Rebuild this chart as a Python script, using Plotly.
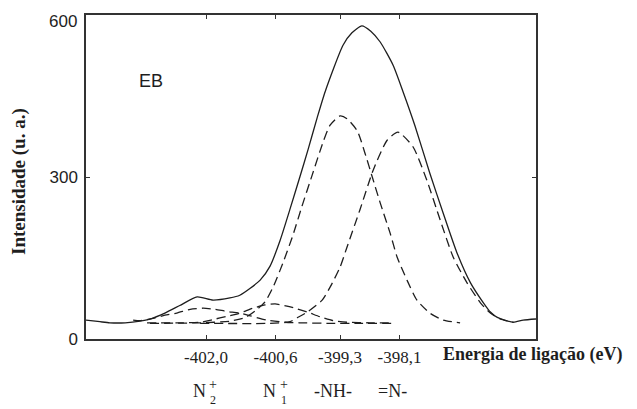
import plotly.graph_objects as go

# ---- data (binding energy in eV, intensity in a.u.) ----
env_x = [-404.42, -404.14, -403.94, -403.63, -403.33, -403.13, -402.83, -402.53, -402.18,
         -401.86, -401.52, -401.32, -401.11, -400.91, -400.71, -400.51, -400.31, -400.11,
         -399.94, -399.76, -399.60, -399.24, -399.06, -398.86, -398.68, -398.49, -398.23,
         -398.03, -397.79, -397.49, -397.22, -396.94, -396.67, -396.41, -396.27, -396.13,
         -395.81, -395.61, -395.35]
env_y = [35, 32, 30, 30, 33, 37, 48, 62, 78,
         72, 76, 81, 94, 109, 135, 182, 240, 300,
         352, 410, 458, 544, 567, 580, 570, 550, 507,
         458, 395, 307, 233, 159, 104, 67, 50, 40,
         31, 35, 37]

nh_x = [-403.13, -402.12, -401.52, -401.21, -401.01, -400.81, -400.65, -400.45, -400.25,
        -400.07, -399.86, -399.64, -399.50, -399.30, -399.16, -398.95, -398.80, -398.65,
        -398.49, -398.29, -398.15, -397.95, -397.75, -397.49, -397.22, -396.88]
nh_y = [29, 30, 33, 40, 52, 69, 96, 141, 192,
        245, 304, 365, 396, 413, 408, 385, 345, 300,
        252, 196, 152, 109, 72, 48, 35, 30]

imine_x = [-402.12, -400.71, -400.31, -400.17, -399.96, -399.66, -399.50, -399.30, -399.16,
           -398.90, -398.63, -398.35, -398.13, -397.83, -397.55, -397.28, -397.02, -396.74,
           -396.47, -396.27, -396.07, -395.81]
imine_y = [29, 29, 32, 39, 50, 72, 96, 133, 170,
           239, 313, 368, 383, 356, 294, 220, 152, 104,
           67, 48, 37, 31]

n1_x = [-403.19, -402.46, -402.12, -401.86, -401.58, -401.32, -401.06, -400.81, -400.61,
        -400.37, -400.17, -399.96, -399.70, -399.44, -399.16, -398.70, -398.23]
n1_y = [30, 30, 31, 36, 42, 48, 57, 63, 65,
        61, 56, 50, 41, 34, 31, 30, 30]

n2_x = [-403.47, -403.33, -403.07, -402.83, -402.59, -402.32, -402.06, -401.82, -401.58,
        -401.32, -401.11, -400.77, -400.41, -400.11, -399.50, -398.90, -398.23]
n2_y = [35, 34, 38, 44, 48, 55, 57, 55, 51,
        48, 43, 35, 31, 30, 29, 29, 29]

tick_vals = [-402.0, -400.6, -399.3, -398.1]
tick_text = ["-402,0", "-400,6", "-399,3", "-398,1"]
y_ticks = [0, 300, 600]

INK = "#1e1e1e"
SERIF = "Liberation Serif, Times New Roman, serif"
SANS = "Liberation Sans, Arial, sans-serif"

fig = go.Figure()
dash = "9px,5px"
for xs, ys in [(n2_x, n2_y), (n1_x, n1_y), (nh_x, nh_y), (imine_x, imine_y)]:
    fig.add_trace(go.Scatter(x=xs, y=ys, mode="lines",
                             line=dict(color=INK, width=1.3, dash=dash, shape="spline", smoothing=0.6),
                             showlegend=False, hoverinfo="skip"))
fig.add_trace(go.Scatter(x=env_x, y=env_y, mode="lines",
                         line=dict(color=INK, width=1.3, shape="spline", smoothing=0.6),
                         showlegend=False, hoverinfo="skip"))

# the top label sits a little below its tick in the reference (it would be clipped otherwise)
y_text = [str(v) if v != max(y_ticks) else "" for v in y_ticks]

# the page body adds an 8px offset, so the figure is laid out 8px smaller on each origin side
fig.update_layout(
    template="none",
    width=629, height=401,
    margin=dict(l=78, r=101, t=7, b=70, pad=0),
    paper_bgcolor="white", plot_bgcolor="white",
    font=dict(family=SERIF, color=INK),
    xaxis=dict(range=[-404.42, -395.35], tickvals=tick_vals, ticktext=tick_text, automargin=False,
               showgrid=False, zeroline=False, showline=True, linecolor="#333", linewidth=1.5,
               mirror="ticks", ticks="inside", ticklen=4, tickcolor="#333",
               tickfont=dict(family=SERIF, size=17, color=INK), ticklabelstandoff=2,
               ticklabeloverflow="allow"),
    yaxis=dict(range=[0, 600], tickvals=y_ticks, ticktext=y_text, showgrid=False, zeroline=False,
               automargin=False, showline=True, linecolor="#333", linewidth=1.5, mirror="ticks",
               ticks="inside", ticklen=4, tickcolor="#333",
               tickfont=dict(family=SANS, size=17, color=INK), ticklabelstandoff=3,
               ticklabeloverflow="allow"),
)

ann = []
ann.append(dict(text=str(max(y_ticks)), x=0, xref="paper", y=max(y_ticks), yref="y",
                xanchor="right", yanchor="middle", xshift=-7, yshift=-6, showarrow=False,
                font=dict(family=SANS, size=17, color=INK)))
# axis titles
ann.append(dict(text="<b>Energia de ligação (eV)</b>", xref="paper", yref="paper",
                x=(441 - 86) / 450, y=(339 - 354) / 324, xanchor="left", yanchor="middle",
                showarrow=False, font=dict(family=SERIF, size=18, color=INK)))
ann.append(dict(text="<b>Intensidade (u. a.)</b>", xref="paper", yref="paper",
                x=(19 - 86) / 450, y=(339 - 182) / 324, xanchor="center", yanchor="middle",
                textangle=-90, showarrow=False, font=dict(family=SERIF, size=19, color=INK)))
# EB label
ann.append(dict(text="EB", xref="paper", yref="paper", x=(151 - 86) / 450, y=(339 - 81) / 324,
                xanchor="center", yanchor="middle", showarrow=False,
                font=dict(family=SANS, size=18, color=INK)))
# species labels under ticks
row_y = (339 - 391) / 324
def lab(text, xv, dx, dy=0, size=18):
    ann.append(dict(text=text, x=xv, xref="x", yref="paper", y=row_y, xshift=dx, yshift=dy,
                    xanchor="center", yanchor="middle", showarrow=False,
                    font=dict(family=SERIF, size=size, color=INK)))

lab("N", tick_vals[0], -7)
lab("+", tick_vals[0], 7, 7, 14)
lab("2", tick_vals[0], 7, -9, 12)
lab("N", tick_vals[1], -6)
lab("+", tick_vals[1], 8, 7, 14)
lab("1", tick_vals[1], 8, -9, 12)
lab("-NH-", tick_vals[2], -7)
lab("=N-", tick_vals[3], -7)
fig.update_layout(annotations=ann)

fig.write_html("out.html")
